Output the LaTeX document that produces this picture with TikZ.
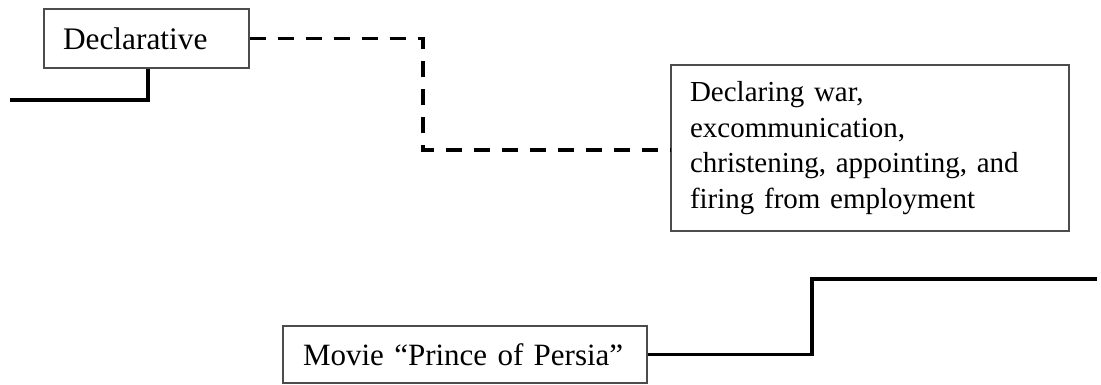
\documentclass[tikz,border=0pt]{standalone}
\usepackage{fontspec}
\setmainfont{Liberation Serif}
\tikzset{
  box/.style={draw=black!70, line width=0.8pt, rectangle, align=left, inner xsep=14.25pt, inner ysep=0pt, anchor=center},
  conn/.style={line width=2.5pt, black},
  dashconn/.style={line width=2.5pt, black, dash pattern=on 12pt off 9pt},
}
\begin{document}
\begin{tikzpicture}[x=0.75pt,y=-0.75pt]
\useasboundingbox (0,0) rectangle (1101,385);
\node[box, text width=125.25pt, minimum height=44.25pt, font=\fontsize{23.5pt}{28pt}\selectfont] (b1) at (146.5,38.5) {Declarative};
\node[box, text width=270pt, minimum height=124.5pt, font=\fontsize{21.75pt}{26.7pt}\selectfont] (b2) at (870,148) {Declaring war,\\excommunication,\\christening, appointing, and\\firing from employment};
\node[box, text width=243pt, inner xsep=15pt, minimum height=42.75pt, font=\fontsize{23.25pt}{28pt}\selectfont] (b3) at (465,354.5) {Movie “Prince of Persia”};
\coordinate (k1) at (148,100);
\coordinate (s1) at (10,100);
\coordinate (d1) at (423,150);
\coordinate (k3) at (812,279);
\coordinate (e3) at (1097,279);
\draw[conn] (b1.south -| k1) |- (s1);
\draw[dashconn] (b1.east) -| (d1) -- (d1 -| b2.west);
\draw[conn] (b3.east) -| (k3) -- (e3);
\end{tikzpicture}
\end{document}
